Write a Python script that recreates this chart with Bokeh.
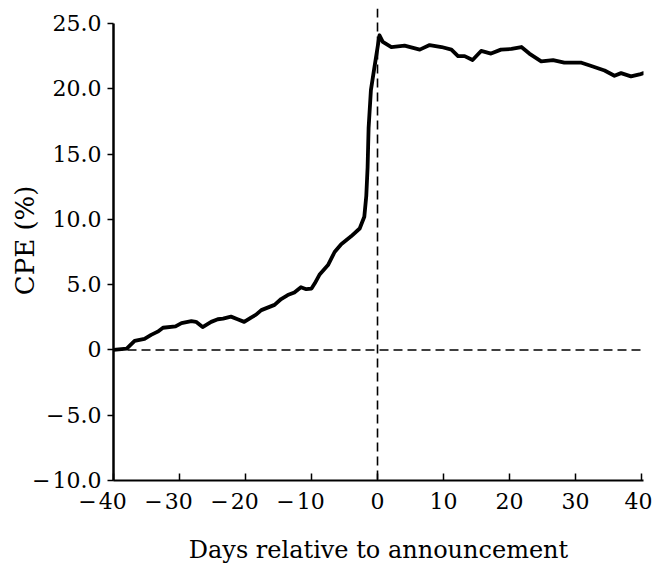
from bokeh.plotting import figure
from bokeh.models import Range1d, Span, FixedTicker
from bokeh.embed import file_html
from bokeh.resources import INLINE

# Data
days = [-40, -38, -36.8, -35.3, -34.3, -33.3, -32.5, -30.6, -29.7, -28.2, -27.5, -26.5,
        -25.2, -24.2, -23.4, -22.2, -21.2, -20.2, -19.1, -18.4, -17.6, -15.6, -14.6, -13.6,
        -12.6, -11.6, -10.8, -10.0, -9.5, -8.8, -7.5, -6.5, -5.5, -4.0, -2.7, -2.0, -1.7,
        -1.5, -1.35, -1.0, -0.45, 0.3, 0.8, 2.1, 4.1, 6.4, 7.9, 9.7, 11.2, 12.2, 13.2,
        14.4, 15.7, 17.2, 18.7, 20.3, 21.8, 23.0, 24.8, 26.6, 28.3, 30.9, 32.4, 34.4,
        35.9, 36.9, 38.4, 39.7, 40.3]
cpe = [0.0, 0.1, 0.7, 0.85, 1.15, 1.4, 1.7, 1.8, 2.05, 2.2, 2.15, 1.75,
       2.15, 2.35, 2.4, 2.55, 2.35, 2.15, 2.5, 2.7, 3.05, 3.45, 3.9, 4.2,
       4.4, 4.8, 4.65, 4.7, 5.1, 5.75, 6.5, 7.5, 8.1, 8.7, 9.3, 10.2, 11.8,
       14.0, 17.0, 19.9, 21.7, 24.1, 23.6, 23.2, 23.3, 23.0, 23.35, 23.2, 23.0, 22.5, 22.5,
       22.2, 22.9, 22.7, 23.0, 23.05, 23.2, 22.7, 22.1, 22.2, 22.0, 22.0, 21.75, 21.4,
       21.0, 21.2, 20.95, 21.1, 21.2]

x_ticks = [-40, -30, -20, -10, 0, 10, 20, 30, 40]
x_labels = ["\u2212\u200a40\u2003", "\u2212\u200a30\u2003", "\u2212\u200a20\u2003",
            "\u2212\u200a10\u2003", "0", "10", "20", "30", "40"]
y_ticks = [-10, -5, 0, 5, 10, 15, 20, 25]
y_labels = ["\u2212\u200a10.0", "\u2212\u200a5.0", "0", "5.0", "10.0", "15.0", "20.0", "25.0"]

FONT = "DejaVu Serif"

p = figure(width=652, height=568, output_backend="svg", toolbar_location=None,
           x_range=Range1d(-40, 40.3), y_range=Range1d(-10, 26.15),
           min_border_left=113, min_border_right=9, min_border_top=8, min_border_bottom=88,
           frame_width=530, frame_height=472)
p.outline_line_color = None
p.xgrid.visible = False
p.ygrid.visible = False
p.background_fill_color = "white"
p.border_fill_color = "white"

# reference lines
p.add_layout(Span(location=0, dimension="width", line_color="black", line_width=1.6, line_dash="9 5"))
p.add_layout(Span(location=0, dimension="height", line_color="black", line_width=1.6, line_dash="9 5"))

p.line(days, cpe, line_color="black", line_width=3.8, line_join="round", line_cap="round")

# x axis
xa = p.xaxis[0]
xa.ticker = FixedTicker(ticks=x_ticks)
xa.major_label_overrides = {t: l for t, l in zip(x_ticks, x_labels)}
xa.major_tick_in = 7
xa.major_tick_out = 0
xa.minor_tick_line_color = None
xa.axis_line_width = 2
xa.major_tick_line_width = 1.5
xa.major_label_text_font = FONT
xa.major_label_text_font_size = "22px"
xa.major_label_text_color = "black"
xa.major_label_standoff = 8
xa.axis_label = "Days relative to announcement"
xa.axis_label_text_font = FONT
xa.axis_label_text_font_size = "24px"
xa.axis_label_text_font_style = "normal"
xa.axis_label_text_color = "black"
xa.axis_label_standoff = 19

# y axis
ya = p.yaxis[0]
ya.ticker = FixedTicker(ticks=y_ticks)
ya.major_label_overrides = {t: l for t, l in zip(y_ticks, y_labels)}
ya.bounds = (-10, 25)
ya.major_tick_in = 0
ya.major_tick_out = 6
ya.minor_tick_line_color = None
ya.axis_line_width = 2.5
ya.major_tick_line_width = 1.5
ya.major_label_text_font = FONT
ya.major_label_text_font_size = "22px"
ya.major_label_text_color = "black"
ya.major_label_standoff = 6
ya.axis_label = "\u00a0CPE (%)"
ya.axis_label_text_font = FONT
ya.axis_label_text_font_size = "26px"
ya.axis_label_text_font_style = "normal"
ya.axis_label_text_color = "black"
ya.axis_label_standoff = -11

open("out.html", "w").write(file_html(p, INLINE))
